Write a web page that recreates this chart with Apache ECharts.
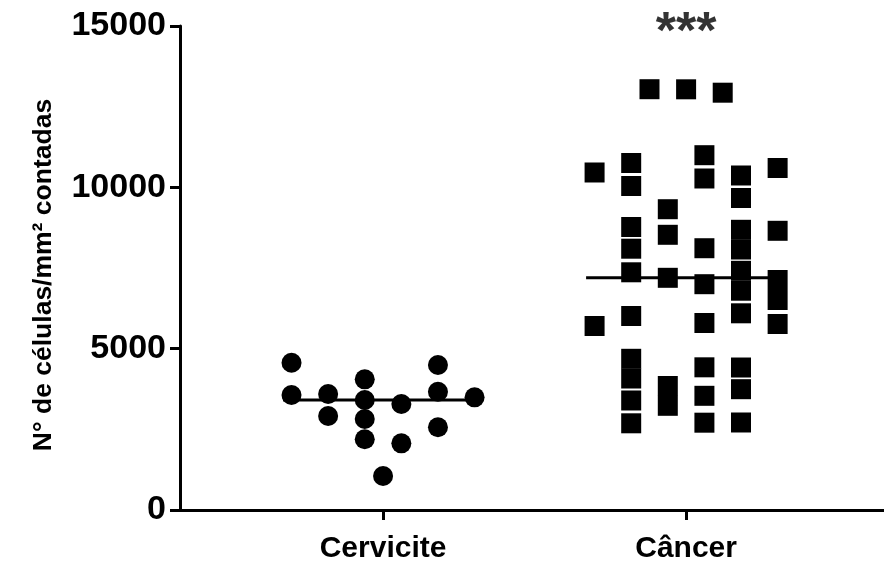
<!DOCTYPE html>
<html>
<head>
<meta charset="utf-8">
<script src="https://cdn.jsdelivr.net/npm/echarts@6/dist/echarts.min.js"></script>
<style>
html,body{margin:0;padding:0;background:#fff;}
#chart{width:884px;height:562px;}
</style>
</head>
<body>
<div id="chart"></div>
<script>
// ---- data ----
var categories = ['Cervicite', 'Câncer'];
var yTicks = [0, 5000, 10000, 15000];
// Cervicite values and their jitter slots (column within the swarm)
var cervValues = [4565, 3564, 3595, 2913, 4050, 3409, 2820, 2191, 1054, 3285, 2067, 4493, 3666, 2563, 3492];
var cervSlots  = [-5, -5, -3, -3, -1, -1, -1, -1, 0, 1, 1, 3, 3, 3, 5];
// Câncer values and jitter slots
var cancValues = [13041, 13038, 12933, 10460, 10754, 10041, 10996, 10274, 10367, 9669, 10599,
                  9322, 8529, 8771, 8098, 7367, 7196, 8113, 8684, 8073, 8653, 7413, 6796, 6998,
                  7128, 6508, 5795, 6096, 5764, 5702, 6012, 4686, 4075, 3394, 2687, 3843, 3229,
                  4422, 3539, 2706, 4416, 3744, 2712];
var cancSlots  = [-2, 0, 2, -5, -3, -3, 1, 1, 3, 3, 5,
                  -1, -1, -3, -3, -3, -1, 1, 3, 3, 5, 3, 3, 1,
                  5, 5, 1, 3, 5, -5, -3, -3, -3, -3, -3, -1, -1,
                  1, 1, 1, 3, 3, 3];
var significance = '***';
var significanceAt = [2, 15000];

// ---- helpers ----
var SLOT = 0.0604;      // horizontal spacing of swarm columns (axis units)
var HALF_LINE = 0.33;   // half width of the median line (axis units)
function median(a){
  var s = a.slice().sort(function(x,y){return x-y;});
  var n = s.length;
  return n % 2 ? s[(n-1)/2] : (s[n/2-1] + s[n/2]) / 2;
}
function pts(vals, slots, catIdx){
  return vals.map(function(v,i){ return [catIdx + 1 + slots[i]*SLOT, v]; });
}
var medC = median(cervValues), medK = median(cancValues);
var FONT = 'Arial, "Liberation Sans", sans-serif';

var chart = echarts.init(document.getElementById('chart'), null, {renderer:'canvas'});
chart.setOption({
  animation: false,
  backgroundColor: '#fff',
  grid: {left: 180, right: 0, top: 26, bottom: 52, containLabel: false, outerBoundsMode: 'none'},
  xAxis: {
    type: 'value', min: 0.33, max: 2.653,
    splitLine: {show: false},
    axisLine: {show: true, onZero: false, lineStyle: {color: '#000', width: 3}},
    axisTick: {show: true, customValues: [1, 2], length: 10, lineStyle: {color: '#000', width: 3}},
    axisLabel: {
      show: true, customValues: [1, 2], margin: 24,
      color: '#000', fontWeight: 'bold', fontSize: 30, fontFamily: FONT,
      formatter: function(v){ return categories[Math.round(v) - 1] || ''; }
    }
  },
  yAxis: {
    type: 'value', min: 0, max: 15000, interval: 5000,
    name: 'N° de células/mm² contadas', nameLocation: 'middle', nameGap: 123, nameRotate: 90,
    nameTextStyle: {color: '#000', fontWeight: 'bold', fontSize: 26.5, fontFamily: FONT,
                    padding: [0, 14, 0, 0]},
    splitLine: {show: false},
    axisLine: {show: true, lineStyle: {color: '#000', width: 3}},
    axisTick: {show: true, length: 10, lineStyle: {color: '#000', width: 3}},
    axisLabel: {
      color: '#000', fontWeight: 'bold', fontSize: 34, fontFamily: FONT, margin: 14,
      customValues: yTicks,
      formatter: function(v){ return String(v); }
    }
  },
  series: [
    {
      type: 'line', data: [[1 - HALF_LINE, medC], [1 + HALF_LINE, medC]],
      symbol: 'none', lineStyle: {color: '#000', width: 3}, z: 1, silent: true
    },
    {
      type: 'line', data: [[2 - HALF_LINE, medK], [2 + HALF_LINE, medK]],
      symbol: 'none', lineStyle: {color: '#000', width: 3}, z: 1, silent: true
    },
    {
      name: categories[0], type: 'scatter', symbol: 'circle', symbolSize: 20,
      itemStyle: {color: '#000', opacity: 1}, z: 3,
      data: pts(cervValues, cervSlots, 0)
    },
    {
      name: categories[1], type: 'scatter', symbol: 'rect', symbolSize: 20,
      itemStyle: {color: '#000', opacity: 1}, z: 3,
      data: pts(cancValues, cancSlots, 1)
    },
    {
      type: 'scatter', symbol: 'circle', symbolSize: 0, clip: false, silent: true,
      itemStyle: {color: '#000'}, z: 4,
      data: [significanceAt],
      label: {show: true, formatter: significance, color: '#000', fontWeight: 'bold',
              textBorderWidth: 0, fontSize: 52, fontFamily: FONT, position: 'inside', offset: [0, 8]}
    }
  ]
});
</script>
</body>
</html>
